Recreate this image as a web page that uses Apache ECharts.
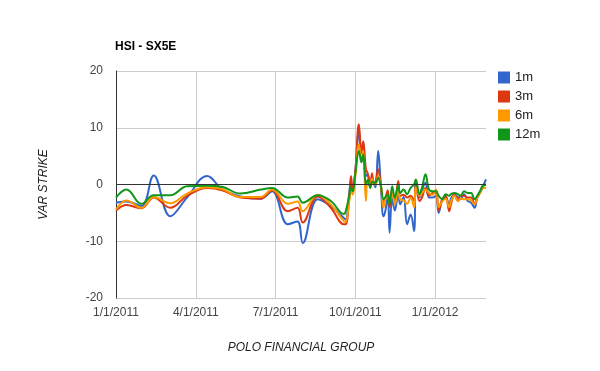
<!DOCTYPE html>
<html>
<head>
<meta charset="utf-8">
<script src="https://cdn.jsdelivr.net/npm/echarts@6/dist/echarts.min.js"></script>
<style>
html,body{margin:0;padding:0;background:#fff;}
#chart{width:600px;height:371px;}
</style>
</head>
<body>
<div id="chart"></div>
<script>
var dates = [
 '2011-01-01','2011-01-13','2011-01-30','2011-02-13','2011-03-04','2011-03-23','2011-04-15','2011-05-02',
 '2011-05-23','2011-06-15','2011-06-28','2011-07-16','2011-07-27','2011-08-02','2011-08-19','2011-09-03',
 '2011-09-18','2011-09-20','2011-09-24','2011-09-26','2011-09-28','2011-10-01','2011-10-05','2011-10-08',
 '2011-10-10','2011-10-13','2011-10-15','2011-10-18','2011-10-20','2011-10-22','2011-10-24','2011-10-27',
 '2011-10-30','2011-11-02','2011-11-04','2011-11-07','2011-11-09','2011-11-12','2011-11-15','2011-11-19',
 '2011-11-21','2011-11-25','2011-11-29','2011-12-03','2011-12-07','2011-12-09','2011-12-13','2011-12-16',
 '2011-12-20','2011-12-24','2011-12-28','2012-01-01','2012-01-04','2012-01-08','2012-01-12','2012-01-16',
 '2012-01-18','2012-01-22','2012-01-26','2012-01-29','2012-02-02','2012-02-06','2012-02-10','2012-02-14',
 '2012-02-17','2012-02-21','2012-02-23','2012-02-27'
];
var m1 = [
 -3.2,-3.0,-3.8,1.6,-5.6,-2.3,1.5,-0.8,
 -2.1,-2.5,-1.2,-7.0,-6.5,-10.3,-2.6,-3.8,
 -5.9,-6.2,-1.5,0.6,-1.2,2.4,9.2,5.6,
 7.0,1.5,1.8,-0.3,1.2,0.2,-0.5,5.9,
 0.0,-5.6,-4.8,-2.0,-8.5,-2.5,-4.6,-1.4,
 -3.5,-2.2,-7.0,-5.3,-8.2,0.6,-2.3,-1.0,
 0.3,-2.3,-2.3,-2.0,-5.0,-2.8,-2.3,-3.7,
 -2.5,-1.7,-2.3,-2.6,-1.7,-2.9,-3.2,-4.1,
 -2.3,-1.2,-0.5,0.9
];
var m3 = [
 -4.6,-3.6,-4.2,-2.3,-4.1,-2.0,-0.6,-1.0,
 -2.3,-2.5,-1.0,-4.7,-4.1,-6.7,-2.1,-4.1,
 -7.0,-7.0,-2.5,1.5,-1.0,2.4,10.6,5.6,
 7.6,2.7,2.0,-0.2,2.0,0.3,0.5,2.7,
 0.0,-3.5,-2.5,-1.0,-4.0,-1.5,-3.0,0.6,
 -2.0,-1.8,-2.3,-2.0,-2.9,0.0,-2.9,-2.3,
 -0.6,-2.0,-1.5,-1.5,-4.6,-2.6,-2.0,-4.7,
 -3.5,-1.7,-2.9,-2.0,-2.0,-2.3,-2.3,-3.5,
 -2.3,-1.2,-0.3,0.0
];
var m6 = [
 -4.4,-2.8,-4.1,-2.2,-3.3,-1.6,-0.5,-0.8,
 -2.2,-2.2,-0.9,-3.4,-3.0,-4.7,-1.8,-3.5,
 -6.5,-6.6,-3.0,-1.2,-1.8,1.5,7.0,4.2,
 6.0,-2.9,0.5,0.2,1.0,0.0,0.0,1.5,
 0.0,-4.1,-2.8,-2.0,-3.2,-1.5,-3.5,-0.8,
 -2.6,-2.8,-3.4,-2.3,-4.0,-0.5,-2.0,-1.5,
 -0.9,-1.5,-1.8,-0.9,-4.0,-3.0,-2.5,-4.0,
 -3.0,-2.0,-2.9,-2.5,-2.6,-2.6,-2.8,-3.5,
 -2.3,-1.2,-0.6,-0.6
];
var m12 = [
 -2.3,-0.9,-3.4,-1.9,-1.9,-0.3,-0.2,-0.4,
 -1.6,-0.9,-0.6,-2.3,-2.1,-3.2,-1.9,-2.9,
 -5.2,-4.7,-2.0,-0.5,-1.2,2.0,5.9,3.9,
 5.3,0.0,0.8,-0.6,0.5,0.3,0.3,1.2,
 -0.2,-2.6,-2.3,-1.8,-3.5,-0.3,-2.3,-0.2,
 -1.5,-0.9,-1.7,-0.6,0.0,0.9,-1.7,-0.6,
 1.8,-0.9,-1.2,-1.2,-2.0,-2.6,-1.7,-2.0,
 -1.7,-1.5,-1.7,-2.0,-1.2,-1.5,-1.5,-2.6,
 -2.0,-0.9,-0.3,0.0
];
var seriesNames = ['1m','3m','6m','12m'];
var tickDays = [0, 91, 182, 273, 364];
var tickLabels = ['1/1/2011','4/1/2011','7/1/2011','10/1/2011','1/1/2012'];

var startMs = Date.UTC(2011,0,1);
function dayIndex(s){
  var p = s.split('-');
  return Math.round((Date.UTC(+p[0], +p[1]-1, +p[2]) - startMs)/86400000);
}
var xs = dates.map(dayIndex);
function pairs(vals){ return vals.map(function(v,i){ return [xs[i], v]; }); }
var colors = ['#3366cc','#dc3912','#ff9900','#109618'];
var allVals = [m1, m3, m6, m12];

var chart = echarts.init(document.getElementById('chart'), null, {renderer:'canvas'});
var font = 'Arial, "Liberation Sans", sans-serif';
chart.setOption({
  animation: false,
  color: colors,
  textStyle: {fontFamily: font},
  title: {
    text: 'HSI - SX5E', left: 110, top: 36,
    textStyle: {fontSize: 12, fontWeight: 'bold', color: '#000', fontFamily: font}
  },
  legend: {
    orient: 'vertical', left: 493, top: 66,
    itemWidth: 12, itemHeight: 12, itemGap: 6,
    icon: 'rect',
    textStyle: {fontSize: 13, color: '#222', fontFamily: font},
    data: seriesNames
  },
  grid: {left: 116, right: 114, top: 71, bottom: 73, containLabel: false},
  xAxis: {
    type: 'value', min: 0, max: xs[xs.length-1], interval: 91,
    name: 'POLO FINANCIAL GROUP', nameLocation: 'middle', nameGap: 44,
    nameTextStyle: {fontStyle: 'italic', fontSize: 12, color: '#222', fontFamily: font},
    axisLine: {show: false},
    axisTick: {show: false},
    axisLabel: {
      fontSize: 12, color: '#444', margin: 9, showMaxLabel: false,
      formatter: function(v){ var i = tickDays.indexOf(Math.round(v)); return i >= 0 ? tickLabels[i] : ''; }
    },
    splitLine: {show: true, showMaxLine: false, lineStyle: {color: '#cccccc', width: 1}}
  },
  yAxis: {
    type: 'value', min: -20, max: 20, interval: 10,
    name: 'VAR STRIKE', nameLocation: 'middle', nameGap: 66, nameRotate: 90,
    nameTextStyle: {fontStyle: 'italic', fontSize: 12, color: '#222', fontFamily: font},
    axisLine: {show: true, onZero: false, lineStyle: {color: '#333', width: 1}},
    axisTick: {show: false},
    axisLabel: {fontSize: 12, color: '#444', margin: 13},
    splitLine: {show: true, lineStyle: {color: '#cccccc', width: 1}}
  },
  series: seriesNames.map(function(n, k){
    var s = {
      name: n, type: 'line', data: pairs(allVals[k]),
      smooth: 0.4, showSymbol: false, symbol: 'none',
      lineStyle: {width: 2, color: colors[k]}
    };
    if (k === 0) {
      s.markLine = {
        silent: true, symbol: 'none', label: {show: false},
        lineStyle: {color: '#333', width: 1, type: 'solid'},
        data: [{yAxis: 0}]
      };
    }
    return s;
  })
});
</script>
</body>
</html>
